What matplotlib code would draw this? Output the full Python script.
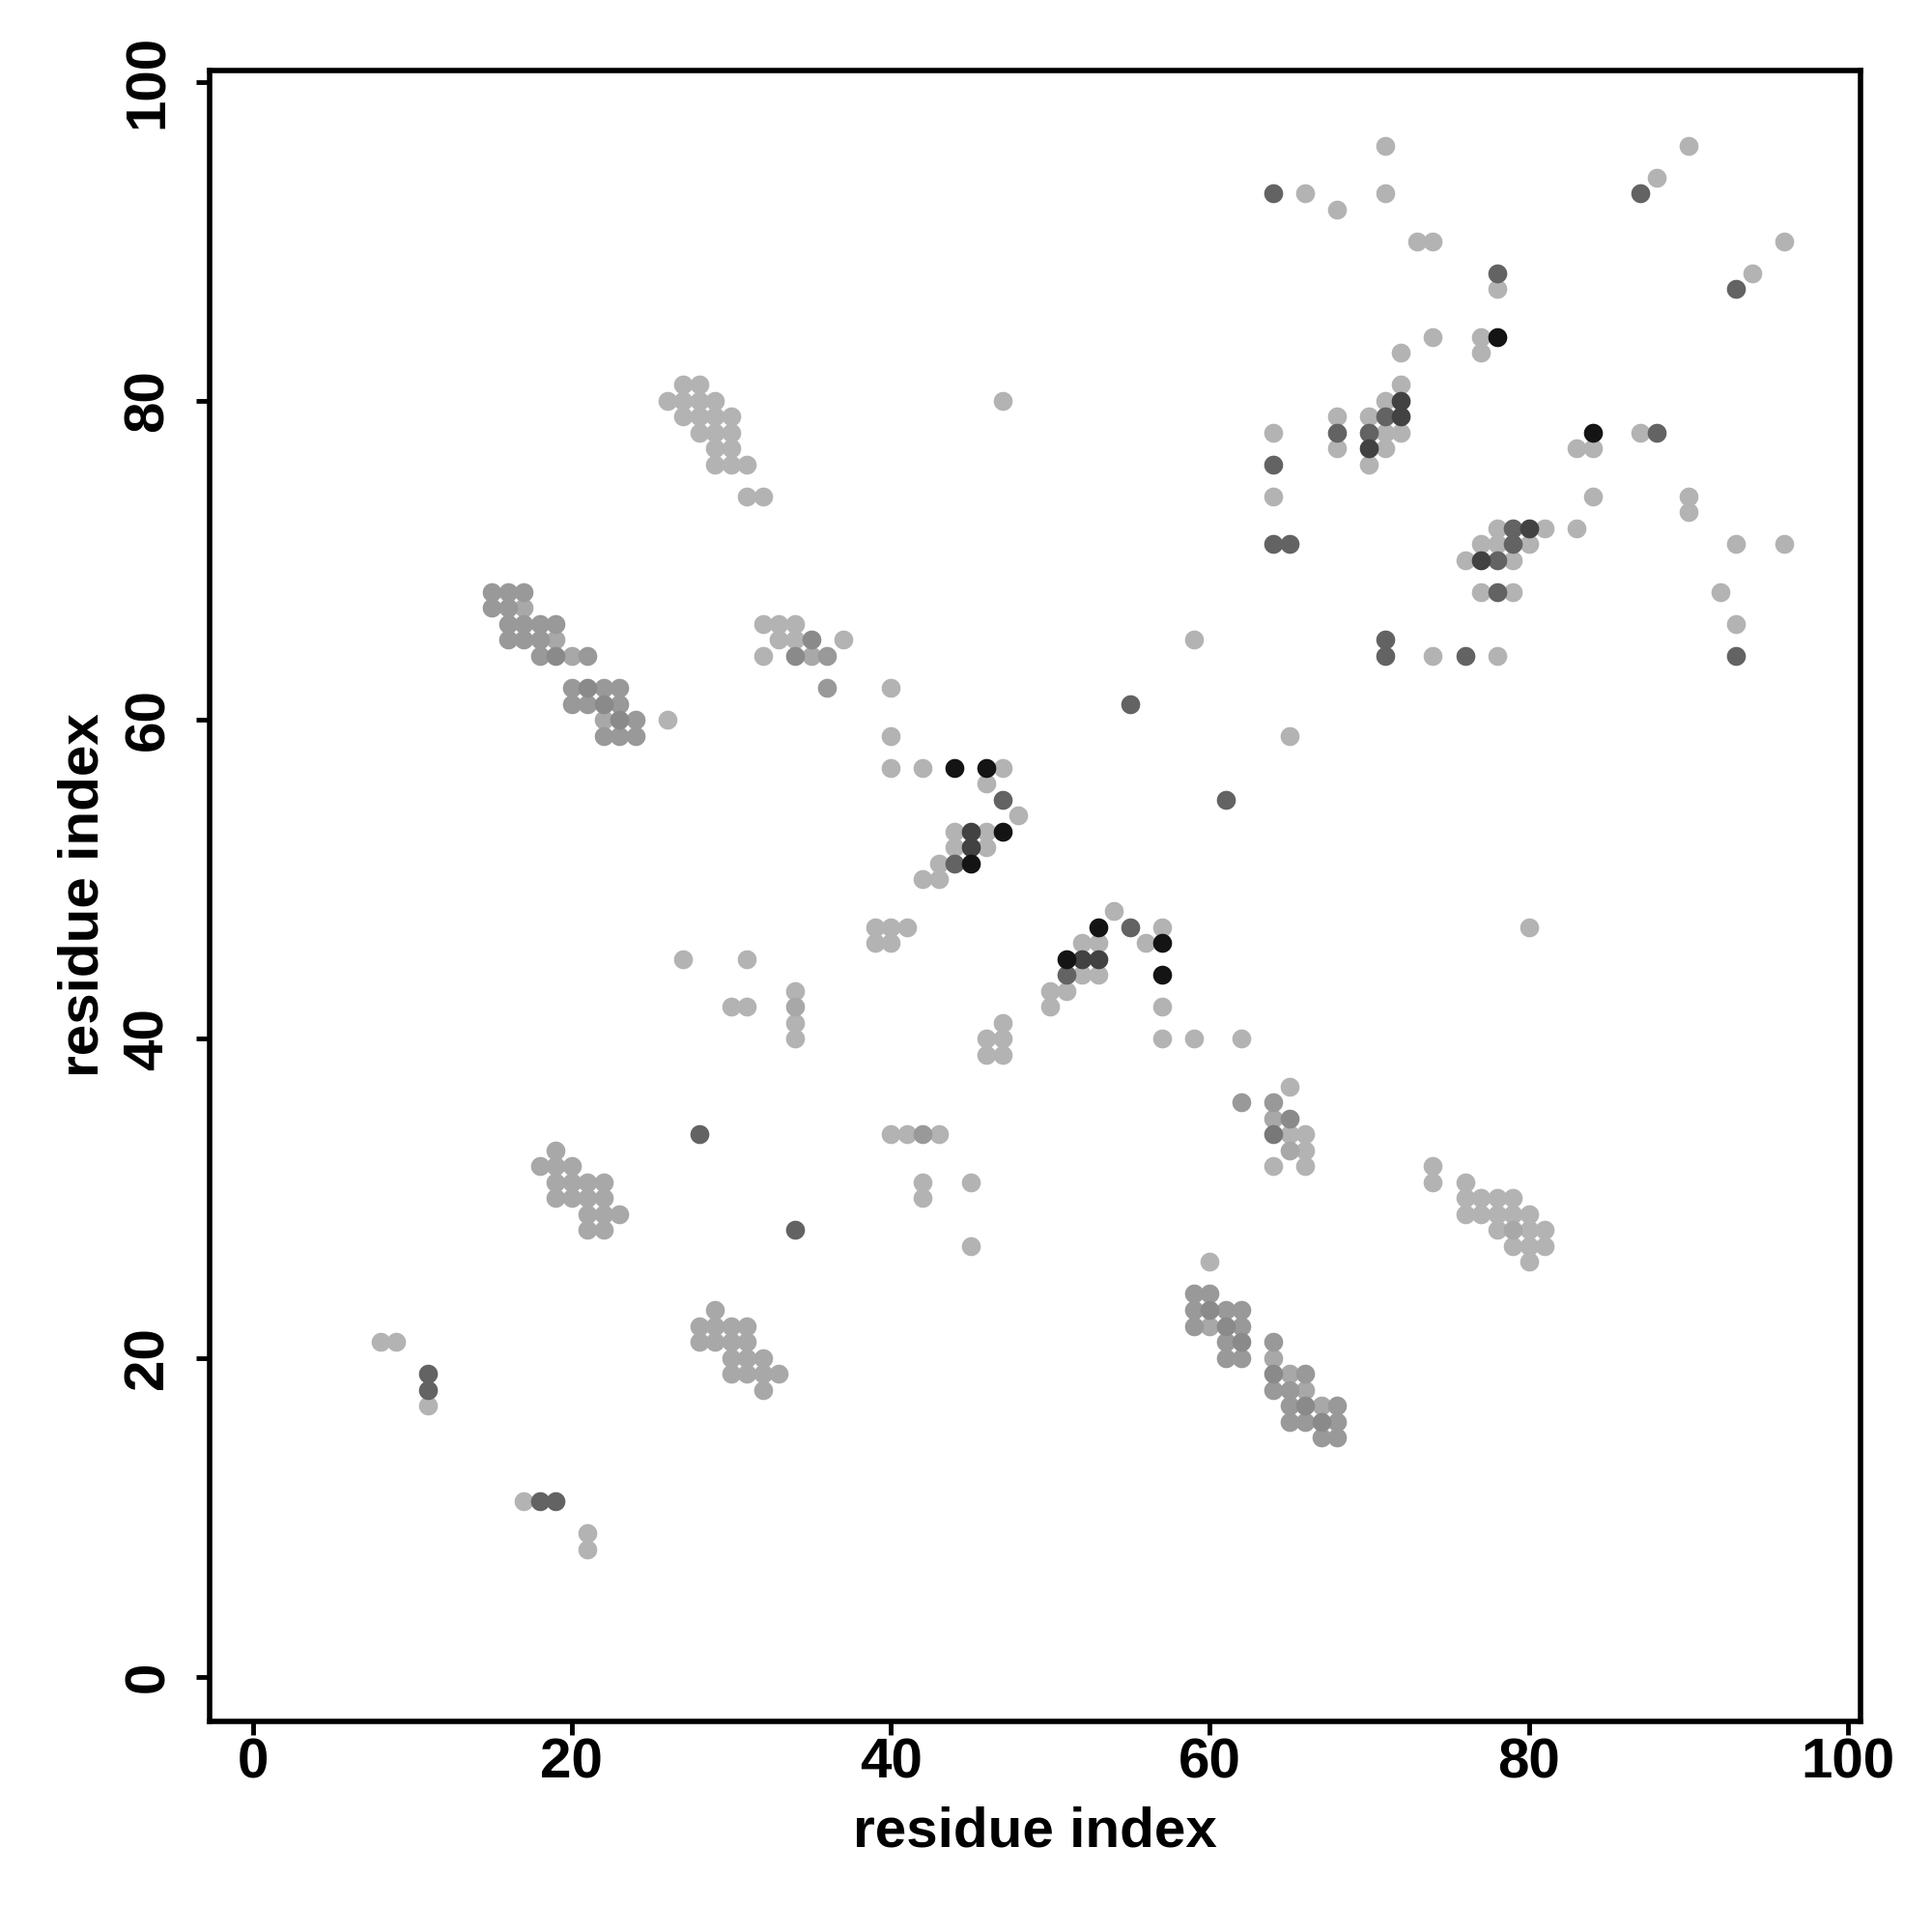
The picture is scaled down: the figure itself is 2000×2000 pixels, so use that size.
import matplotlib
matplotlib.use("Agg")
import matplotlib.pyplot as plt

plt.rcParams['font.family'] = ['Liberation Sans', 'DejaVu Sans']
plt.rcParams['font.weight'] = 'bold'

# grey level of each contact class (0 = black, 1 = white)
GRAY = {"L": 0.70, "L2": 0.66, "M": 0.60, "M2": 0.54,
        "D3": 0.47, "D": 0.39, "D5": 0.26, "K": 0.08}

contacts_L = [
    (8, 21), (9, 21), (11, 17), (17, 11), (21, 9), (21, 8),
    (27, 81), (28, 81), (26, 80), (27, 80), (28, 80), (29, 80),
    (27, 79), (28, 79), (29, 79), (30, 79), (28, 78), (29, 78), (30, 78),
    (29, 77), (30, 77), (29, 76), (30, 76), (31, 76), (31, 74), (32, 74),
    (26, 60),
    (32, 66), (33, 66), (34, 66), (33, 65), (34, 65), (37, 65), (32, 64),
    (40, 62), (40, 59), (40, 57), (42, 57), (47, 57), (46, 56), (48, 54),
    (44, 53), (46, 53), (44, 52), (46, 52), (43, 51), (42, 50), (43, 50),
    (47, 80),
    (39, 47), (40, 47), (41, 47), (39, 46), (40, 46),
    (27, 45), (31, 45), (30, 42), (31, 42), (34, 43), (34, 41), (34, 40),
    (46, 40), (47, 40), (46, 39), (47, 39), (47, 41),
    (40, 34), (41, 34), (43, 34), (42, 31), (42, 30), (45, 31), (45, 27),
    (54, 48), (57, 47), (52, 46), (53, 46), (56, 46), (52, 44), (53, 44),
    (50, 43), (51, 43), (50, 42), (57, 42), (57, 40), (59, 40), (62, 40),
    (80, 47), (60, 26), (59, 65), (65, 59),
    (65, 37), (65, 34), (66, 34), (66, 33), (64, 32), (66, 32),
    (74, 32), (74, 31), (76, 31), (76, 30), (77, 30), (78, 30), (79, 30),
    (76, 29), (77, 29), (78, 29), (79, 29), (80, 29), (78, 28), (80, 28),
    (81, 28), (79, 27), (80, 27), (81, 27), (80, 26),
    (66, 93), (68, 92), (71, 96), (71, 93), (73, 90), (74, 90), (78, 87),
    (74, 84), (77, 84), (77, 83), (72, 83), (72, 81), (71, 80), (68, 79),
    (70, 79), (64, 78), (71, 78), (72, 78), (68, 77), (71, 77), (70, 76),
    (64, 74), (74, 64), (78, 64),
    (88, 94), (90, 96), (96, 90), (94, 88), (83, 77), (84, 77), (84, 74),
    (83, 72), (87, 78), (90, 74), (90, 73), (93, 71), (96, 71), (92, 68),
    (93, 66),
    (78, 72), (81, 72), (77, 71), (78, 71), (80, 71), (76, 70), (79, 70),
    (77, 68), (79, 68),
]

contacts_L2 = [
    (29, 23), (28, 22), (29, 22), (30, 22), (31, 22), (28, 21), (29, 21),
    (30, 21), (31, 21), (30, 20), (31, 20), (32, 20), (30, 19), (31, 19),
    (32, 19), (33, 19), (32, 18),
    (19, 33), (18, 32), (19, 32), (20, 32), (19, 31), (20, 31), (21, 31),
    (22, 31), (19, 30), (20, 30), (21, 30), (22, 30), (21, 29), (22, 29),
    (23, 29), (21, 28), (22, 28),
    (17, 67), (19, 65), (20, 64), (22, 60),
    (35, 64), (34, 42), (64, 35), (65, 33), (79, 28),
    (60, 22), (64, 20), (65, 19), (66, 18), (67, 17),
]

contacts_M = [
    (15, 68), (16, 68), (17, 68), (15, 67), (16, 67),
    (16, 66), (17, 66), (18, 66), (19, 66), (16, 65), (17, 65), (18, 65),
    (18, 64), (21, 64),
    (20, 62), (22, 62), (23, 62), (20, 61), (21, 61), (23, 61),
    (24, 60), (22, 59), (23, 59), (24, 59),
    (36, 64), (36, 62), (42, 34),
    (62, 36), (64, 36),
    (59, 24), (60, 24), (59, 23), (61, 23), (62, 23), (59, 22), (62, 22),
    (61, 21), (61, 20), (62, 20),
    (64, 21), (66, 19), (64, 18), (65, 18), (65, 17), (68, 17),
    (65, 16), (66, 16), (68, 16), (67, 15), (68, 15),
]

contacts_M2 = [
    (19, 64), (21, 62), (22, 61), (23, 60),
    (35, 65), (34, 64), (65, 35),
    (60, 23), (61, 22), (62, 21), (64, 19), (66, 17), (67, 16),
]

contacts_D3 = [(64, 34)]

contacts_D = [
    (11, 19), (11, 18), (18, 11), (19, 11), (28, 34), (34, 28),
    (47, 55), (44, 51), (55, 47), (55, 61), (61, 55), (51, 44),
    (64, 93), (78, 88), (71, 79), (68, 78), (70, 78), (64, 76),
    (64, 71), (65, 71), (71, 65), (71, 64), (76, 64),
    (87, 93), (93, 87), (88, 78), (93, 64),
    (79, 72), (79, 71), (78, 70), (78, 68),
]

contacts_D5 = [
    (72, 80), (72, 79), (70, 77), (45, 53), (45, 52), (52, 45), (53, 45),
    (80, 72), (77, 70),
]

contacts_K = [
    (44, 57), (46, 57), (47, 53), (45, 51), (53, 47), (57, 46), (51, 45),
    (57, 44), (78, 84), (84, 78),
]

groups = [("L", contacts_L), ("L2", contacts_L2), ("M", contacts_M),
          ("M2", contacts_M2), ("D3", contacts_D3), ("D", contacts_D),
          ("D5", contacts_D5), ("K", contacts_K)]

ticks = [0, 20, 40, 60, 80, 100]

fig = plt.figure(figsize=(20, 20), dpi=100)
ax = fig.add_axes([0.1085, 0.109, 0.8545, 0.8545])

for key, pts in groups:
    g = GRAY[key]
    ax.scatter([p[0] for p in pts], [p[1] for p in pts], s=200,
               color=(g, g, g), linewidths=0, zorder=2)

ax.set_xlim(-2.7, 100.8)
ax.set_ylim(-2.8, 100.7)
ax.set_xticks(ticks)
ax.set_yticks(ticks)
ax.set_xticklabels([str(t) for t in ticks])
ax.set_yticklabels([str(t) for t in ticks])
for sp in ax.spines.values():
    sp.set_linewidth(4)
ax.tick_params(axis='both', direction='out', length=10, width=3.5,
               labelsize=42)
ax.tick_params(axis='x', pad=2)
ax.tick_params(axis='y', pad=16)
for lab in ax.get_yticklabels():
    lab.set_rotation(90)
    lab.set_va('center')
    lab.set_fontweight('bold')
for lab in ax.get_xticklabels():
    lab.set_fontweight('bold')

fig.text(0.5355, 0.0445, "residue index", ha='center', va='baseline',
         fontsize=42, fontweight='bold')
fig.text(0.051, 0.5365, "residue index", ha='center', va='baseline',
         rotation=90, rotation_mode='anchor', fontsize=42, fontweight='bold')

fig.savefig("out.png", dpi=100, facecolor='white')
